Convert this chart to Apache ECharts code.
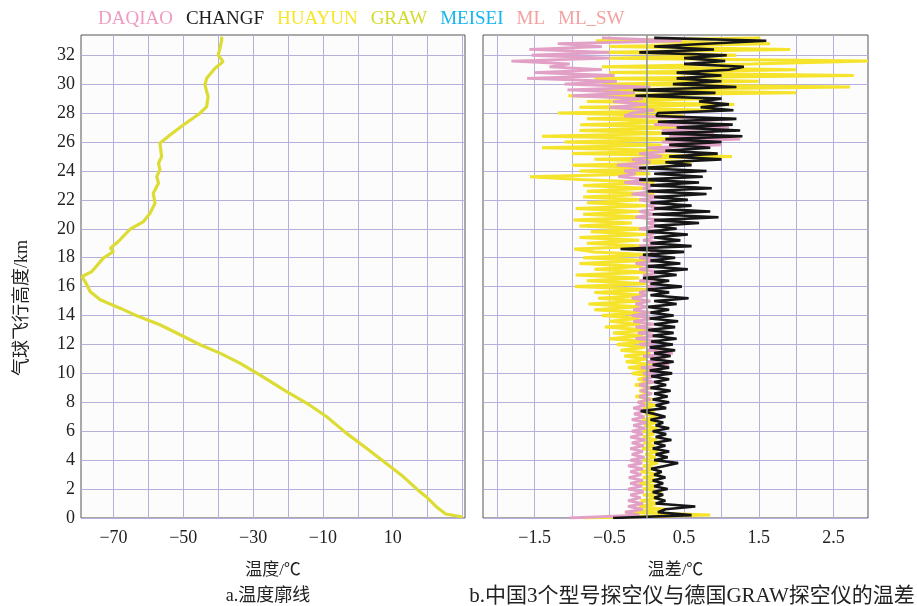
<!DOCTYPE html>
<html><head><meta charset="utf-8">
<script src="https://cdn.jsdelivr.net/npm/echarts@6/dist/echarts.min.js"></script>
<style>html,body{margin:0;padding:0;background:#fff}#c{width:917px;height:606px}</style>
</head><body><div id="c"></div>
<script>
const legendNames = ['DAQIAO','CHANGF','HUAYUN','GRAW','MEISEI','ML','ML_SW'];
const legendColors = ['#ef9cc2','#1e1e1e','#f6e62a','#d3da2e','#16b6ee','#f3a0a0','#f3a0a0'];

// left panel: temperature profile (°C) vs height (km)
const profileHeights = [0.07,0.28,0.8,1.49,1.96,2.88,3.87,4.84,5.87,7.02,7.95,8.75,9.9,10.71,11.4,11.98,12.67,13.36,13.98,14.51,15.09,15.66,16.12,16.7,17.04,17.97,18.43,18.66,19.12,19.97,20.5,21.08,21.77,22.46,23.15,23.61,24.07,24.53,24.99,25.92,26.49,27.18,27.99,28.45,29.14,29.95,30.41,31.1,31.56,32.02,32.48,33.05,33.28];
const profileTemps = [30.0,25.2,22.4,19.5,17.1,12.9,7.6,2.4,-3.3,-9.0,-14.7,-20.5,-28.1,-33.8,-39.5,-45.2,-50.9,-56.7,-63.3,-68.1,-73.8,-76.7,-77.6,-79.0,-76.2,-72.9,-70.0,-70.9,-68.6,-65.2,-61.4,-59.5,-58.1,-58.6,-57.1,-57.6,-56.7,-57.1,-56.2,-56.7,-53.8,-50.0,-45.2,-43.3,-42.9,-43.8,-43.3,-40.9,-38.6,-40.0,-39.5,-39.0,-39.0];

// right panel: temperature difference (°C) vs height (km)
const diffHeights = [
0,0.2,0.4,0.6,0.8, 1,1.2,1.4,1.6,1.8, 2,2.2,2.4,2.6,2.8, 3,3.2,3.4,3.6,3.8,
4,4.2,4.4,4.6,4.8, 5,5.2,5.4,5.6,5.8, 6,6.2,6.4,6.6,6.8, 7,7.2,7.4,7.6,7.8,
8,8.2,8.4,8.6,8.8, 9,9.2,9.4,9.6,9.8, 10,10.2,10.4,10.6,10.8, 11,11.2,11.4,11.6,11.8,
12,12.2,12.4,12.6,12.8, 13,13.2,13.4,13.6,13.8, 14,14.2,14.4,14.6,14.8, 15,15.2,15.4,15.6,15.8,
16,16.2,16.4,16.6,16.8, 17,17.2,17.4,17.6,17.8, 18,18.2,18.4,18.6,18.8, 19,19.2,19.4,19.6,19.8,
20,20.2,20.4,20.6,20.8, 21,21.2,21.4,21.6,21.8, 22,22.2,22.4,22.6,22.8, 23,23.2,23.4,23.6,23.8,
24,24.2,24.4,24.6,24.8, 25,25.2,25.4,25.6,25.8, 26,26.2,26.4,26.6,26.8, 27,27.2,27.4,27.6,27.8,
28,28.2,28.4,28.6,28.8, 29,29.2,29.4,29.6,29.8, 30,30.2,30.4,30.6,30.8, 31,31.2,31.4,31.6,31.8,
32,32.2,32.4,32.6,32.8, 33,33.2];
const diffDAQIAO = [
-1.03,-0.1,-0.29,-0.05,-0.25, -0.05,-0.25,-0.08,-0.22,-0.04, -0.25,-0.06,-0.22,-0.05,-0.24, -0.07,-0.22,-0.05,-0.25,-0.06,
-0.22,-0.03,-0.2,-0.05,-0.22, -0.04,-0.2,-0.02,-0.22,-0.05, -0.2,-0.02,-0.18,0.0,-0.2, -0.03,-0.17,0.0,-0.18,-0.02,
-0.12,0.05,-0.1,0.07,-0.08, 0.05,-0.1,0.1,-0.05,0.12, -0.05,0.2,-0.08,0.3,0.0, 0.25,-0.05,0.35,0.0,0.25,
-0.1,0.2,-0.15,0.15,-0.12, 0.2,-0.15,0.1,-0.18,0.1, -0.2,0.05,-0.18,0.0,-0.15, 0.05,-0.2,0.0,-0.1,0.1,
0.0,0.2,-0.1,0.15,-0.05, 0.2,-0.1,0.1,-0.15,0.15, -0.1,0.1,0.05,0.15,-0.1, 0.2,-0.05,0.1,0.0,0.2,
-0.1,0.15,0.0,0.2,-0.15, 0.1,-0.1,0.2,0.0,0.15, -0.1,0.2,-0.2,0.1,-0.05, 0.1,-0.3,0.05,-0.38,-0.15,
-0.3,0.1,-0.4,0.05,-0.2, 0.2,-0.1,0.4,0.0,1.0, 0.2,1.25,0.3,0.9,0.2, 1.1,0.1,0.5,1.15,-0.3,
-0.2,0.1,-0.5,0.0,-0.45, -0.05,-1.0,-0.16,-1.06,0.05, -1.1,-0.4,-1.6,-0.43,-1.5, -0.6,-1.3,-1.03,-1.81,-0.5,
-1.54,-0.5,-1.57,-0.6,-1.19, 0.47,-0.6];
const diffCHANGF = [
-0.45,0.6,0.15,0.25,0.65, 0.12,0.25,0.1,0.22,0.08, 0.28,0.1,0.22,0.08,0.25, 0.1,0.2,0.06,0.24,0.42,
0.1,0.28,0.12,0.3,0.08, 0.25,0.1,0.33,0.12,0.26, 0.08,0.3,0.12,0.22,0.05, 0.25,0.1,-0.08,0.26,0.12,
0.3,0.08,0.28,0.1,0.32, 0.05,0.26,0.1,0.3,0.06, 0.34,0.04,0.3,0.08,0.36, 0.05,0.32,0.1,0.38,0.04,
0.35,0.06,0.4,0.08,0.36, 0.02,0.38,0.1,0.42,0.04, 0.36,0.05,0.3,0.02,0.4, 0.1,0.56,0.05,0.3,0.0,
0.47,0.05,0.3,-0.05,0.4, 0.1,0.55,0.0,0.45,0.05, 0.38,-0.05,0.5,-0.35,0.6, 0.05,0.45,0.1,0.55,0.0,
0.4,0.1,0.7,0.1,0.96, 0.08,0.85,0.1,0.6,0.05, 0.55,0.1,0.8,0.0,0.87, 0.05,0.7,-0.1,0.75,0.1,
0.8,-0.1,0.6,0.25,1.0, 0.3,0.95,0.25,0.85,0.3, 1.0,0.25,1.28,0.2,1.25, 0.4,1.15,0.15,1.2,0.13,
0.15,1.16,0.72,1.1,0.7, 1.0,-0.15,0.92,-0.18,1.2, 0.35,1.0,0.4,1.0,0.4, 1.1,1.3,0.5,1.05,0.5,
1.07,-0.1,0.9,0.1,0.8, 1.6,0.1];
const diffHUAYUN = [
-0.85,0.85,-0.29,0.25,-0.1, 0.15,-0.08,0.18,-0.05,0.2, -0.05,0.15,-0.1,0.16,-0.05, 0.18,-0.08,0.12,-0.05,0.15,
-0.05,0.12,-0.02,0.15,-0.06, 0.1,-0.04,0.14,-0.05,0.1, -0.05,0.14,-0.03,0.12,-0.06, 0.15,-0.02,0.1,-0.05,0.12,
-0.12,0.08,-0.15,0.05,-0.1, 0.08,-0.16,0.06,-0.12,0.09, -0.2,0.05,-0.25,0.1,-0.28, 0.0,-0.3,0.05,-0.35,-0.02,
-0.4,0.0,-0.5,-0.05,-0.45, 0.0,-0.56,-0.08,-0.5,-0.1, -0.6,-0.05,-0.7,-0.1,-0.78, -0.05,-0.65,0.0,-0.7,0.05,
-0.96,0.0,-0.8,-0.1,-0.95, 0.02,-0.7,-0.05,-0.9,0.0, -0.85,0.05,-0.7,-0.97,0.0, -0.8,-0.1,-0.9,0.0,-0.75,
0.02,-0.9,-0.2,-0.98,0.0, -0.85,-0.1,-0.95,0.02,-0.8, -0.05,-0.85,0.1,-0.8,0.0, -0.85,0.1,-0.9,-1.56,0.05,
-0.9,0.3,-1.0,0.6,-0.7, 1.14,-1.0,0.5,-1.4,0.2, -1.1,0.6,-1.4,0.4,-0.9, 0.5,-0.89,0.45,-0.8,0.5,
-1.19,0.9,-0.9,1.17,-0.8, 0.8,-1.05,2.0,-0.7,2.72, -0.6,1.5,-0.7,2.77,-0.5, 2.0,-0.6,1.4,2.96,-0.5,
1.2,-0.6,1.92,-0.5,1.65, -0.68,1.52];

// ticks and labels
const tempTicks = [-70,-60,-50,-40,-30,-20,-10,0,10,20,30];
const tempLabels = [-70,-50,-30,-10,10];
const diffTicks = [-2,-1.5,-1,-0.5,0,0.5,1,1.5,2,2.5];
const diffLabels = [-1.5,-0.5,0.5,1.5,2.5];
const heightTicks = [0,2,4,6,8,10,12,14,16,18,20,22,24,26,28,30,32];

const SERIF = 'Liberation Serif, Noto Sans CJK SC';
const gridColor = '#b6aedb';
const fmt = v => String(v).replace('-', '\u2212');

const chart = echarts.init(document.getElementById('c'), null, {renderer: 'canvas'});

function xAxisCfg(gi, min, max, ticks, labels, name) {
  return {
    type: 'value', gridIndex: gi, min: min, max: max,
    axisLine: {show: false},
    axisTick: {show: true, length: 0, customValues: ticks},
    axisLabel: {customValues: labels, formatter: fmt, fontSize: 18, fontFamily: SERIF, color: '#222', margin: 11},
    splitLine: {show: true, lineStyle: {color: gridColor, width: 1}},
    name: name, nameLocation: 'middle', nameGap: 44,
    nameTextStyle: {fontSize: 17, fontFamily: SERIF, color: '#222'}
  };
}
function yAxisCfg(gi, showLabels) {
  return {
    type: 'value', gridIndex: gi, min: 0, max: 33.4,
    axisLine: {show: false},
    axisTick: {show: showLabels, length: 4, customValues: heightTicks, lineStyle: {color: gridColor}},
    axisLabel: {show: showLabels, customValues: heightTicks, fontSize: 18, fontFamily: SERIF, color: '#222', margin: 6},
    splitLine: {show: true, lineStyle: {color: gridColor, width: 1}}
  };
}
const pairs = (xs, ys) => xs.map((x, i) => [x, ys[i]]);

const option = {
  animation: false,
  backgroundColor: '#ffffff',
  legend: {
    data: legendNames.map((n, i) => ({name: n, textStyle: {color: legendColors[i]}})),
    icon: 'none', itemWidth: 0, itemGap: 8, left: 88, top: 5,
    textStyle: {fontFamily: SERIF, fontSize: 19}, selectedMode: false
  },
  grid: [
    {left: 81, top: 35, width: 384, height: 483, show: true, backgroundColor: '#fcfcfc', borderColor: '#555', borderWidth: 1},
    {left: 483, top: 35, width: 385, height: 483, show: true, backgroundColor: '#fcfcfc', borderColor: '#555', borderWidth: 1}
  ],
  xAxis: [
    xAxisCfg(0, -79.3, 30.7, tempTicks, tempLabels, '温度/℃'),
    xAxisCfg(1, -2.19, 2.96, diffTicks, diffLabels, '温差/℃')
  ],
  yAxis: [yAxisCfg(0, true), yAxisCfg(1, false)],
  graphic: [
    {type: 'text', x: 22, y: 308, rotation: Math.PI / 2,
     style: {text: '气球飞行高度/km', font: '18px ' + SERIF, fill: '#222', textAlign: 'center', textVerticalAlign: 'middle'}},
    {type: 'text', x: 268, y: 596,
     style: {text: 'a.温度廓线', font: '18px ' + SERIF, fill: '#222', textAlign: 'center', textVerticalAlign: 'middle'}},
    {type: 'text', x: 692, y: 596,
     style: {text: 'b.中国3个型号探空仪与德国GRAW探空仪的温差', font: '21px ' + SERIF, fill: '#222', textAlign: 'center', textVerticalAlign: 'middle'}}
  ],
  series: [
    {name: 'GRAW', type: 'line', xAxisIndex: 0, yAxisIndex: 0, showSymbol: false, symbol: 'none',
     data: pairs(profileTemps, profileHeights), color: legendColors[3],
     lineStyle: {color: '#dcdc34', width: 3.2}},
    {name: 'HUAYUN', type: 'line', xAxisIndex: 1, yAxisIndex: 1, showSymbol: false, symbol: 'none',
     data: pairs(diffHUAYUN, diffHeights), color: legendColors[2],
     lineStyle: {color: '#f6e32c', width: 3}},
    {name: 'DAQIAO', type: 'line', xAxisIndex: 1, yAxisIndex: 1, showSymbol: false, symbol: 'none',
     data: pairs(diffDAQIAO, diffHeights), color: legendColors[0],
     lineStyle: {color: '#e2a0c6', width: 2.8}},
    {name: 'CHANGF', type: 'line', xAxisIndex: 1, yAxisIndex: 1, showSymbol: false, symbol: 'none',
     data: pairs(diffCHANGF, diffHeights), color: legendColors[1],
     lineStyle: {color: '#161616', width: 2.6},
     markLine: {silent: true, symbol: 'none', label: {show: false},
       lineStyle: {color: '#8f9a86', width: 1.5, type: 'solid'}, data: [{xAxis: 0}]}},
    {name: 'MEISEI', type: 'line', xAxisIndex: 1, yAxisIndex: 1, data: [], color: legendColors[4]},
    {name: 'ML', type: 'line', xAxisIndex: 1, yAxisIndex: 1, data: [], color: legendColors[5]},
    {name: 'ML_SW', type: 'line', xAxisIndex: 1, yAxisIndex: 1, data: [], color: legendColors[6]}
  ]
};
chart.setOption(option);
</script>
</body></html>
